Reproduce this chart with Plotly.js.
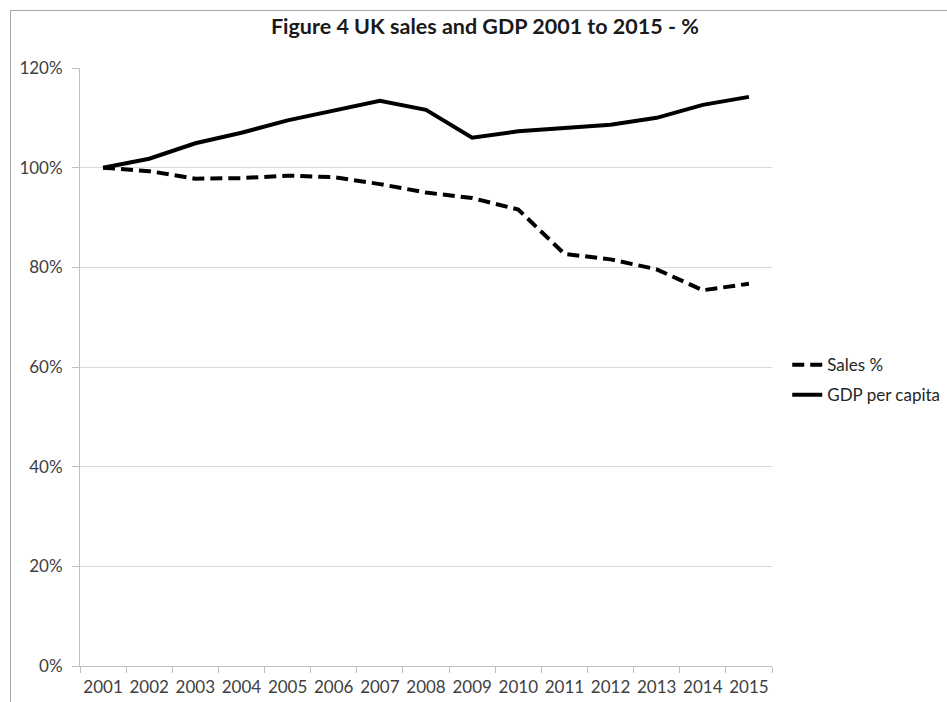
<!DOCTYPE html>
<html>
<head>
<meta charset="utf-8">
<script src="https://cdn.plot.ly/plotly-3.0.1.min.js"></script>
<style>
  html, body { margin: 0; padding: 0; background: #fff; overflow: hidden; }
  #chart { width: 947px; height: 702px; }
  #frame { position: absolute; left: 10px; top: 10px; width: 1200px; height: 1200px;
           border: 1px solid #a6a6a6; pointer-events: none; }
</style>
</head>
<body>
<div id="chart"></div>
<div id="frame"></div>
<script>
// Years on the category axis
const years = ['2001','2002','2003','2004','2005','2006','2007','2008',
               '2009','2010','2011','2012','2013','2014','2015'];
// Index values, 2001 = 100%
const salesPct = [100, 99.3, 97.8, 97.9, 98.4, 98.1, 96.7, 95.0,
                  93.9, 91.6, 82.7, 81.6, 79.6, 75.4, 76.7];
const gdpPerCapita = [100, 101.8, 104.9, 107.0, 109.5, 111.5, 113.4, 111.6,
                      106.0, 107.3, 108.0, 108.6, 110.0, 112.6, 114.2];

const font = 'Lato, "Open Sans", sans-serif';

const traces = [
  {
    x: years, y: salesPct, name: 'Sales %', type: 'scatter', mode: 'lines',
    legendgroup: 'sales',
    line: { color: '#000', width: 4, dash: '12px,6px' },
    hoverinfo: 'skip'
  },
  {
    x: years, y: gdpPerCapita, name: 'GDP per capita', type: 'scatter', mode: 'lines',
    legendgroup: 'gdp',
    line: { color: '#000', width: 4 },
    hoverinfo: 'skip'
  }
];

const layout = {
  width: 947, height: 702,
  margin: { l: 80, r: 175, t: 68, b: 36, autoexpand: false },
  paper_bgcolor: '#fff', plot_bgcolor: '#fff',
  font: { family: font, size: 17, color: '#404040' },
  title: {
    text: '<b>Figure 4 UK sales and GDP 2001 to 2015 - %</b>',
    font: { family: font, size: 21.5, color: '#1a1a1a' },
    x: 0.512, xanchor: 'center', y: 0.962, yanchor: 'middle'
  },
  xaxis: {
    type: 'category',
    range: [-0.5, 14.5],
    tickson: 'boundaries',
    tickangle: 0,
    ticks: 'outside', ticklen: 6, tickcolor: '#bfbfbf', tickwidth: 1,
    ticklabelstandoff: 6,
    showline: true, linecolor: '#bfbfbf', linewidth: 1,
    showgrid: false, zeroline: false,
    tickfont: { family: font, size: 17, color: '#404040' },
    fixedrange: true
  },
  yaxis: {
    range: [0, 120], dtick: 20, ticksuffix: '%',
    ticks: 'outside', ticklen: 7, tickcolor: '#bfbfbf', tickwidth: 1,
    ticklabelstandoff: 6,
    showline: true, linecolor: '#bfbfbf', linewidth: 1,
    showgrid: true, gridcolor: '#d9d9d9', gridwidth: 1,
    zeroline: false,
    tickfont: { family: font, size: 17, color: '#404040' },
    fixedrange: true
  },
  showlegend: true,
  legend: {
    x: 1.022, xanchor: 'left', y: 0.478, yanchor: 'middle',
    tracegroupgap: 5,
    font: { family: font, size: 17, color: '#262626' },
    bgcolor: 'rgba(0,0,0,0)', borderwidth: 0
  }
};

Plotly.newPlot('chart', traces, layout, { staticPlot: true, displayModeBar: false });
</script>
</body>
</html>
